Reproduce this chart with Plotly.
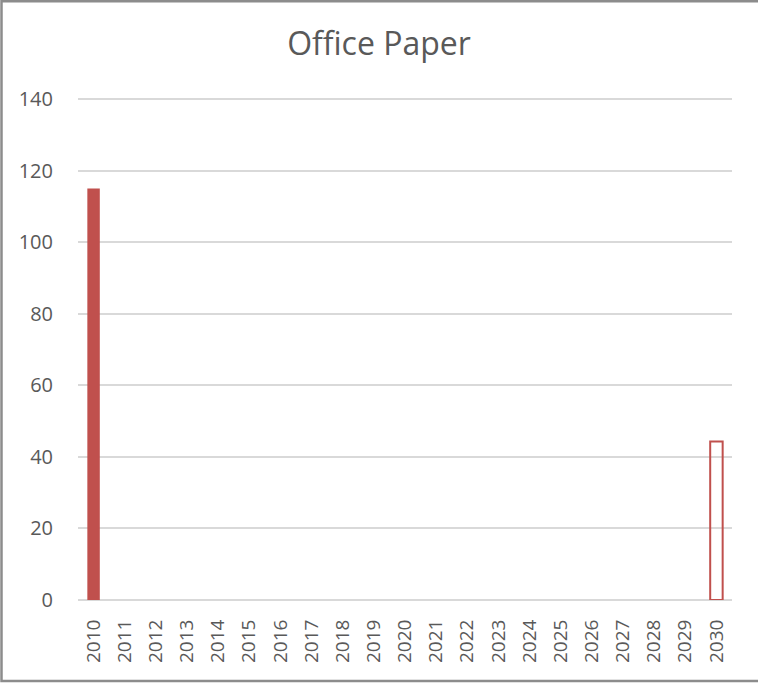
import plotly.graph_objects as go

# Office paper use by year: measured baseline and 2030 target
years = [str(y) for y in range(2010, 2031)]
actual = [115.0] + [None] * 20
target = [None] * 20 + [44.3]

tick_vals = [0, 20, 40, 60, 80, 100, 120, 140]

RED = "#C0504D"
TEXT = "#595959"
GRID = "#D9D9D9"

fig = go.Figure()
fig.add_trace(go.Bar(
    x=years, y=actual, name="Actual",
    marker=dict(color=RED, line=dict(width=0)),
    width=0.4,
))
fig.add_trace(go.Bar(
    x=years, y=target, name="Target",
    marker=dict(color="rgba(255,255,255,0)", line=dict(color=RED, width=2)),
    width=0.4,
))

Y_MAX = 140.6  # a little headroom so the 140 gridline is drawn
PLOT_H = 501 * Y_MAX / 140

fig.update_layout(
    width=758, height=683,
    margin=dict(l=78, r=26, t=683 - 83 - PLOT_H, b=83),
    paper_bgcolor="white", plot_bgcolor="white",
    barmode="overlay",
    showlegend=False,
    title=dict(
        text="Office Paper",
        x=0.5, xanchor="center",
        y=1 - 44 / 683, yanchor="middle",
        font=dict(family="Open Sans", size=32, color=TEXT),
    ),
    font=dict(family="Open Sans", color=TEXT),
)

fig.update_xaxes(
    type="category",
    tickangle=-90,
    tickfont=dict(family="Open Sans", size=19, color=TEXT),
    showgrid=False,
    showline=False,
    ticks="outside", ticklen=11, tickcolor="rgba(0,0,0,0)",
    range=[-0.5, 20.5],
)
fig.update_yaxes(
    range=[0, Y_MAX],
    tickvals=tick_vals,
    tickfont=dict(family="Open Sans", size=20, color=TEXT),
    showgrid=True, gridcolor=GRID, gridwidth=1.5,
    zeroline=True, zerolinecolor=GRID, zerolinewidth=2,
    showline=False,
    ticks="outside", ticklen=20, tickcolor="rgba(0,0,0,0)",
)

# Chart frame
fig.add_shape(
    type="rect", xref="paper", yref="paper",
    x0=(1.5 - 78) / 654, x1=(762 - 78) / 654,
    y0=(683 - 83 - 681) / PLOT_H, y1=(683 - 83 - 1) / PLOT_H,
    line=dict(color="#8C8C8C", width=2.5),
    fillcolor="rgba(0,0,0,0)",
    layer="below",
)

fig.write_html("out.html")
